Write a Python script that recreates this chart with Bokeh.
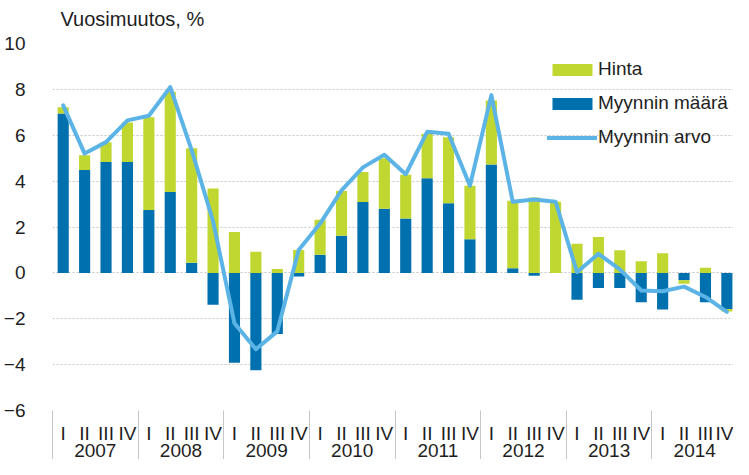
from bokeh.plotting import figure
from bokeh.models import Range1d, FixedTicker, LinearAxis, Legend, LegendItem
from bokeh.embed import file_html
from bokeh.resources import INLINE

# ---- data ----
years = [2007, 2008, 2009, 2010, 2011, 2012, 2013, 2014]
quarter_labels = ["I", "II", "III", "IV"]
hinta = [0.27, 0.65, 0.86, 1.73, 4.04, 4.37, 4.99, 3.68,
         1.78, 0.92, 0.17, 1.00, 1.53, 1.95, 1.31, 2.20,
         1.91, 1.93, 2.88, 2.33, 2.79, 2.94, 3.29, 3.10,
         1.27, 1.56, 0.99, 0.51, 0.86, -0.15, 0.22, -0.10]
maara = [6.95, 4.48, 4.83, 4.83, 2.74, 3.53, 0.44, -1.39,
         -3.92, -4.25, -2.67, -0.16, 0.79, 1.62, 3.09, 2.80,
         2.37, 4.13, 3.03, 1.47, 4.72, 0.20, -0.13, 0.00,
         -1.17, -0.66, -0.66, -1.28, -1.60, -0.32, -1.28, -1.58]
arvo = [7.30, 5.20, 5.70, 6.65, 6.85, 8.10, 5.35, 2.25,
        -2.20, -3.33, -2.55, 1.00, 2.15, 3.60, 4.60, 5.15,
        4.30, 6.15, 6.07, 3.80, 7.75, 3.10, 3.20, 3.10,
        0.03, 0.83, 0.15, -0.77, -0.80, -0.60, -1.05, -1.70]
y_ticks = [-6, -4, -2, 0, 2, 4, 6, 8, 10]
title_text = "Vuosimuutos, %"

GREEN = "#bfd730"
BLUE = "#0070ae"
LINE = "#5cb4e6"
TEXT = "#1e1e1e"
GRID = "#c6c6c6"
FONT = "Liberation Sans"

n = len(arvo)
x = list(range(n))
g_bottom = [max(m, 0) if h >= 0 else min(m, 0) for m, h in zip(maara, hinta)]
g_top = [b + h for b, h in zip(g_bottom, hinta)]
zeros = [0] * n

x_start, x_end = -0.5, 31.31
p = figure(width=733, height=459, output_backend="svg", toolbar_location=None,
           x_range=Range1d(x_start, x_end), y_range=Range1d(-6, 10),
           x_axis_type=None,
           min_border_left=0, min_border_right=0, min_border_top=0, min_border_bottom=0)
p.outline_line_color = None
p.background_fill_color = "white"

p.title.text = title_text
p.title.text_font = FONT
p.title.text_font_size = "20px"
p.title.text_font_style = "normal"
p.title.text_color = TEXT
p.title.align = "left"
p.title.offset = 8

# small invisible spacer axis between title and frame
spacer = LinearAxis(ticker=FixedTicker(ticks=[0], minor_ticks=[]),
                    major_label_overrides={0: ""},
                    major_tick_out=9, major_tick_in=0, major_tick_line_color=None,
                    minor_tick_out=0, minor_tick_in=0, minor_tick_line_color=None,
                    axis_line_color=None, major_label_standoff=0,
                    major_label_text_font_size="1px")
p.add_layout(spacer, "above")

# y axis
p.yaxis.ticker = FixedTicker(ticks=y_ticks)
p.yaxis.major_tick_line_color = None
p.yaxis.minor_tick_line_color = None
p.yaxis.axis_line_color = None
p.yaxis.major_label_standoff = 21
p.yaxis.major_label_text_font = FONT
p.yaxis.major_label_text_font_size = "19px"
p.yaxis.major_label_text_color = TEXT
p.ygrid.grid_line_color = GRID
p.ygrid.grid_line_dash = "2 2"

# bars
b = p.vbar(x=x, bottom=zeros, top=maara, width=0.52, fill_color=BLUE, line_color=None)
g = p.vbar(x=x, bottom=g_bottom, top=g_top, width=0.52, fill_color=GREEN, line_color=None)
ln = p.line(x=x, y=arvo, line_color=LINE, line_width=4, line_join="round", line_cap="round")

# quarter axis with year separators as minor ticks
TICK_OUT = 57
qaxis = LinearAxis(
    ticker=FixedTicker(ticks=x, minor_ticks=[i - 0.5 for i in range(0, n + 1, 4)]),
    major_label_overrides={i: quarter_labels[i % 4] for i in x},
    major_tick_out=0, major_tick_in=0, major_tick_line_color=None,
    minor_tick_out=TICK_OUT, minor_tick_in=0, minor_tick_line_color=GRID,
    axis_line_color=None, major_label_standoff=12 - TICK_OUT,
    major_label_text_font=FONT, major_label_text_font_size="19px",
    major_label_text_color=TEXT)
p.add_layout(qaxis, "below")

# year axis
p.extra_x_ranges = {"yr": Range1d(years[0] + (x_start - 1.5) / 4, years[0] + (x_end - 1.5) / 4)}
yaxis2 = LinearAxis(
    x_range_name="yr", ticker=FixedTicker(ticks=years, minor_ticks=[]),
    major_tick_out=0, major_tick_in=0, major_tick_line_color=None,
    minor_tick_line_color=None, axis_line_color=None, major_label_standoff=-3,
    major_label_text_font=FONT, major_label_text_font_size="19px",
    major_label_text_color=TEXT)
p.add_layout(yaxis2, "below")

legend = Legend(items=[LegendItem(label="Hinta", renderers=[g]),
                       LegendItem(label="Myynnin määrä", renderers=[b]),
                       LegendItem(label="Myynnin arvo", renderers=[ln])],
                location=(495, 262), padding=0, margin=0, spacing=12,
                glyph_width=50, glyph_height=15, label_height=15,
                label_standoff=1, label_text_font=FONT, label_text_font_size="19px",
                label_text_color=TEXT, border_line_color=None,
                background_fill_alpha=0)
p.add_layout(legend)

open("out.html", "w").write(file_html(p, INLINE))
